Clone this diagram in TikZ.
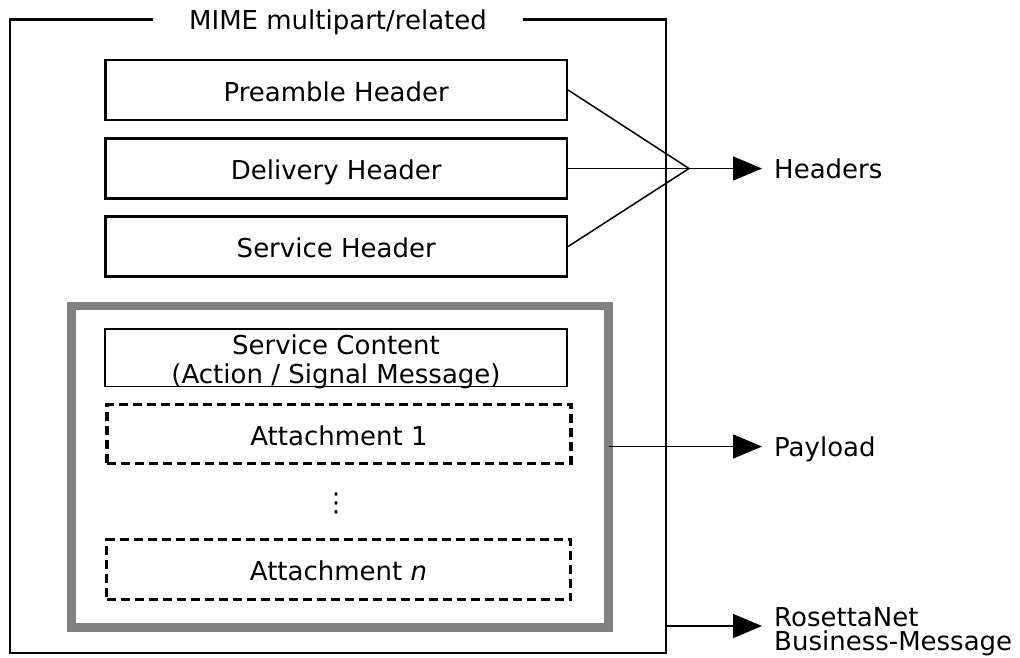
\documentclass[tikz,border=0pt]{standalone}
\usepackage{fontspec}
\setmainfont{DejaVu Sans}
\usetikzlibrary{arrows.meta}
\definecolor{framegray}{HTML}{808080}
\begin{document}
\begin{tikzpicture}[x=1pt,y=-1pt,
  txt/.style={font=\fontsize{26}{30}\selectfont},
  boxtxt/.style={txt, text height=22pt, text depth=0pt},
  hbox/.style={draw, line width=2.2pt, minimum width=461.5pt, minimum height=60pt, inner sep=0pt, boxtxt},
  dbox/.style={draw, line width=3.3pt, dash pattern=on 9pt off 5pt, minimum width=464pt, inner sep=0pt, boxtxt},
  conn/.style={line width=1.5pt},
  arr/.style={line width=1.6pt, -{Triangle[length=29pt,width=24pt]}},
  lbl/.style={txt, anchor=west, inner xsep=12pt, inner ysep=0pt, text height=19pt, text depth=0pt}]
\useasboundingbox (0,0) rectangle (1020,657);
% outer MIME frame with title
\node[txt, inner xsep=36pt, inner ysep=0pt, text height=19pt, text depth=0pt] (title) at (338,19.5) {MIME multipart/related};
\draw[line width=2.2pt] (title.west) -- (10,19.5) -- (10,653) -- (666,653) -- (666,19.5) -- (title.east);
% headers
\node[hbox] (pre) at (336.25,90) {Preamble Header};
\node[hbox] (del) at (336.25,168.5) {Delivery Header};
\node[hbox] (ser) at (336.25,246.5) {Service Header};
% payload frame
\node[draw=framegray, line width=8.5pt, minimum width=537pt, minimum height=321.5pt, inner sep=0pt, outer sep=0pt] (pl) at (340,466.75) {};
\node[draw, line width=1.6pt, minimum width=462pt, minimum height=57.5pt, inner sep=0pt] (sc) at (336,357.75) {};
\node[inner sep=0pt, align=center, font=\fontsize{26}{29}\selectfont] (sctext) at ([yshift=-4pt]sc.center) {Service Content\\(Action / Signal Message)};
\node[dbox, minimum height=58.5pt] (a1) at (339,434) {Attachment 1};
\node[txt] (dots) at (336,503) {⋮};
\node[dbox, minimum height=60pt] (an) at (338.5,569.5) {Attachment \textit{n}};
% labels
\node[lbl] (hdr) at (762,168.5) {Headers};
\node[lbl] (pay) at (762,446.5) {Payload};
\node[anchor=north west, inner sep=0pt, align=left, font=\fontsize{26}{24}\selectfont] (ros) at (774,607) {RosettaNet\\Business-Message};
% connectors
\coordinate (conv) at (689,168.5);
\draw[conn] (pre.east) -- (conv);
\draw[conn] (ser.east) -- (conv);
\draw[conn] (del.east) -- (conv);
\draw[arr] (conv) -- (hdr.west);
\path (pl.east) ++(0,-20.25) coordinate (pfrom);
\draw[arr] (pfrom) -- (pay.west);
\coordinate (rfrom) at (666,626);
\draw[arr] (rfrom) -- ([xshift=-12pt]rfrom -| ros.west);
\end{tikzpicture}
\end{document}
